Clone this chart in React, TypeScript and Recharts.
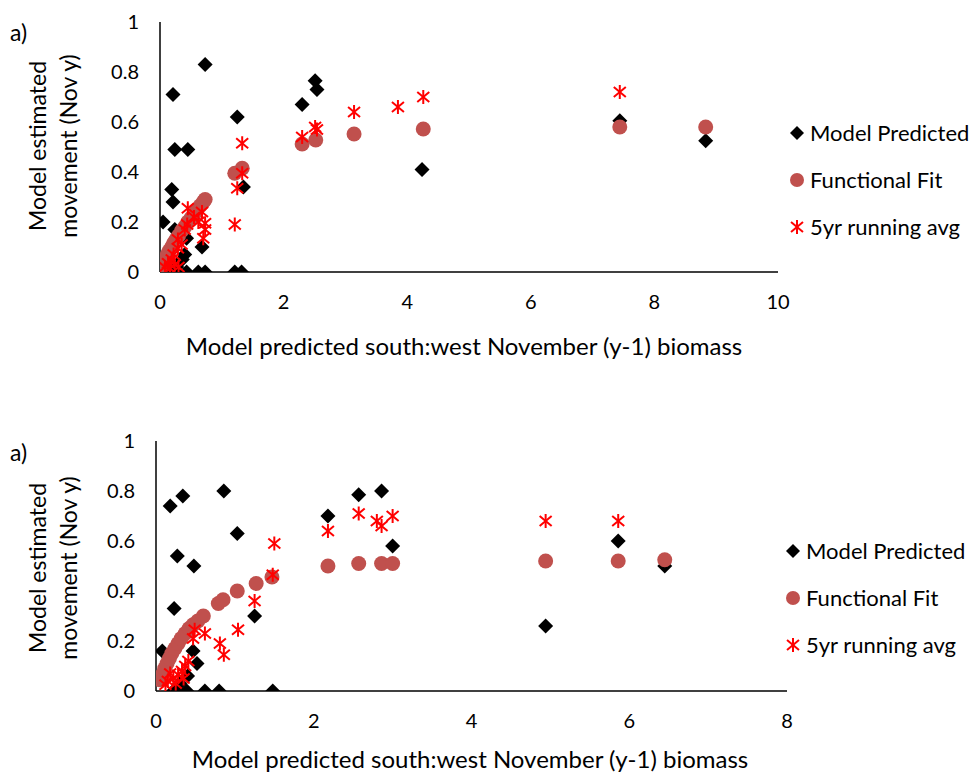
import React from 'react';
import { ScatterChart, Scatter, XAxis, YAxis, Legend } from 'recharts';

// ---------- Top panel data ----------
const topModelX = [0.73, 0.21, 1.25, 0.24, 0.45, 0.19, 0.21, 0.05, 1.35, 0.68, 0.40, 0.24, 0.43, 0.36, 0.12, 0.27, 0.24, 0.43, 0.62, 0.73, 1.21, 1.32, 2.30, 2.51, 2.54, 4.24, 7.44, 8.83];
const topModelY = [0.83, 0.71, 0.62, 0.49, 0.49, 0.33, 0.28, 0.20, 0.34, 0.10, 0.07, 0.17, 0.135, 0.05, 0.05, 0.02, 0, 0, 0, 0, 0, 0, 0.67, 0.765, 0.73, 0.41, 0.605, 0.525];

const topFitX = [0.03, 0.06, 0.09, 0.12, 0.15, 0.19, 0.22, 0.26, 0.30, 0.35, 0.40, 0.45, 0.50, 0.55, 0.60, 0.65, 0.70, 0.73, 1.21, 1.33, 2.30, 2.52, 3.14, 4.26, 7.44, 8.83];
const topFitY = [0.025, 0.04, 0.055, 0.07, 0.085, 0.10, 0.115, 0.13, 0.145, 0.165, 0.18, 0.20, 0.215, 0.23, 0.25, 0.265, 0.28, 0.29, 0.395, 0.415, 0.512, 0.528, 0.552, 0.572, 0.58, 0.58];

const topAvgX = [2.30, 2.51, 2.54, 3.14, 3.85, 4.26, 7.44, 1.33, 1.33, 1.25, 1.21, 0.45, 0.68, 0.73, 0.44, 0.62, 0.73, 0.70, 0.29, 0.40, 0.29, 0.19, 0.13, 0.24, 0.08, 0.35, 0.22, 0.16, 0.30, 0.55];
const topAvgY = [0.54, 0.58, 0.57, 0.64, 0.66, 0.70, 0.72, 0.515, 0.395, 0.335, 0.19, 0.255, 0.24, 0.195, 0.19, 0.20, 0.17, 0.135, 0.13, 0.17, 0.095, 0.05, 0.035, 0.03, 0.02, 0.11, 0.07, 0.015, 0.02, 0.22];

// ---------- Bottom panel data ----------
const botModelX = [0.18, 0.34, 0.86, 1.03, 0.27, 0.48, 0.23, 1.25, 0.08, 0.47, 0.52, 0.40, 0.30, 2.18, 2.57, 2.86, 3.00, 0.22, 0.39, 0.62, 0.80, 1.48, 4.94, 5.86, 6.45];
const botModelY = [0.74, 0.78, 0.80, 0.63, 0.54, 0.50, 0.33, 0.30, 0.16, 0.16, 0.11, 0.06, 0.03, 0.70, 0.785, 0.80, 0.58, 0, 0, 0, 0, 0, 0.26, 0.60, 0.50];

const botFitX = [0.05, 0.08, 0.11, 0.14, 0.17, 0.20, 0.24, 0.28, 0.32, 0.37, 0.42, 0.47, 0.53, 0.60, 0.79, 0.85, 1.03, 1.27, 1.47, 2.18, 2.57, 2.86, 3.00, 4.94, 5.86, 6.45];
const botFitY = [0.045, 0.065, 0.09, 0.11, 0.13, 0.15, 0.17, 0.19, 0.21, 0.23, 0.25, 0.265, 0.28, 0.30, 0.35, 0.365, 0.40, 0.43, 0.456, 0.50, 0.51, 0.51, 0.51, 0.52, 0.52, 0.525];

const botAvgX = [1.50, 1.48, 2.18, 2.57, 2.80, 2.86, 3.00, 4.94, 5.86, 1.25, 1.04, 0.81, 0.86, 0.62, 0.49, 0.47, 0.41, 0.37, 0.33, 0.28, 0.22, 0.15, 0.18, 0.25, 0.35, 0.12];
const botAvgY = [0.59, 0.465, 0.64, 0.71, 0.68, 0.66, 0.70, 0.68, 0.68, 0.36, 0.245, 0.19, 0.145, 0.23, 0.245, 0.21, 0.12, 0.10, 0.08, 0.065, 0.05, 0.04, 0.07, 0.03, 0.05, 0.025];

// ---------- Axis ticks & labels ----------
const topXTicks = [0, 2, 4, 6, 8, 10];
const botXTicks = [0, 2, 4, 6, 8];
const yTicks = [0, 0.2, 0.4, 0.6, 0.8, 1];
const seriesNames = ['Model Predicted', 'Functional Fit', '5yr running avg'];
const xTitle = 'Model predicted south:west November (y-1) biomass';
const yTitle1 = 'Model estimated';
const yTitle2 = 'movement (Nov y)';
const panelLabel = 'a)';

const FONT = 'Lato, "Open Sans", sans-serif';
const FIT_COLOR = '#C0504D';

const zip = (xs: number[], ys: number[]) => xs.map((x, i) => ({ x, y: ys[i] }));

const DiamondShape = (p: any) => {
  const { cx, cy } = p;
  const r = 7.5;
  return <path d={`M${cx},${cy - r}L${cx + r},${cy}L${cx},${cy + r}L${cx - r},${cy}Z`} fill="#000" />;
};
const CircleShape = (p: any) => <circle cx={p.cx} cy={p.cy} r={7.5} fill={FIT_COLOR} />;
const StarShape = (p: any) => {
  const { cx, cy } = p;
  return (
    <g stroke="#FF0000" strokeWidth={2}>
      <line x1={cx} y1={cy - 7} x2={cx} y2={cy + 7} />
      <line x1={cx - 6} y1={cy - 5} x2={cx + 6} y2={cy + 5} />
      <line x1={cx - 6} y1={cy + 5} x2={cx + 6} y2={cy - 5} />
    </g>
  );
};

const legendIcon = (name: string) => {
  if (name === seriesNames[0]) return <path d="M8,1L15,8L8,15L1,8Z" fill="#000" />;
  if (name === seriesNames[1]) return <circle cx={8} cy={8} r={7} fill={FIT_COLOR} />;
  return (
    <g stroke="#FF0000" strokeWidth={2}>
      <line x1={8} y1={1} x2={8} y2={15} />
      <line x1={2} y1={3} x2={14} y2={13} />
      <line x1={2} y1={13} x2={14} y2={3} />
    </g>
  );
};

const renderLegend = (props: any) => {
  const payload = props.payload || [];
  const ordered = seriesNames.filter((n) => payload.some((e: any) => e.value === n));
  return (
    <div style={{ fontFamily: FONT, fontSize: 22, color: '#000' }}>
      {ordered.map((n) => (
        <div key={n} style={{ display: 'flex', alignItems: 'center', height: 47 }}>
          <svg width={16} height={16} style={{ marginRight: 5 }}>{legendIcon(n)}</svg>
          <span style={{ whiteSpace: 'nowrap' }}>{n}</span>
        </div>
      ))}
    </div>
  );
};

const tickStyle = { fill: '#000', fontSize: 20, fontFamily: FONT };

type PanelProps = {
  width: number;
  height: number;
  margin: { top: number; right: number; bottom: number; left: number };
  xMax: number;
  xTicks: number[];
  model: { x: number; y: number }[];
  fit: { x: number; y: number }[];
  avg: { x: number; y: number }[];
  legendPos: { left: number; top: number };
};

const Panel = (p: PanelProps) => (
  <ScatterChart width={p.width} height={p.height} margin={p.margin}>
    <XAxis
      type="number"
      dataKey="x"
      domain={[0, p.xMax]}
      ticks={p.xTicks}
      height={1}
      tickSize={0}
      tickMargin={23}
      tickLine={false}
      axisLine={{ stroke: '#000', strokeWidth: 1.5 }}
      tick={tickStyle}
      allowDataOverflow
    />
    <YAxis
      type="number"
      dataKey="y"
      domain={[0, 1]}
      ticks={yTicks}
      width={1}
      tickSize={0}
      tickMargin={21}
      tickLine={false}
      axisLine={{ stroke: '#000', strokeWidth: 1.5 }}
      tick={tickStyle}
      allowDataOverflow
    />
    <Legend
      layout="vertical"
      align="center"
      verticalAlign="middle"
      content={renderLegend}
      wrapperStyle={{ left: p.legendPos.left, top: p.legendPos.top, width: 190 }}
    />
    <Scatter name={seriesNames[0]} data={p.model} shape={DiamondShape} isAnimationActive={false} />
    <Scatter name={seriesNames[1]} data={p.fit} shape={CircleShape} isAnimationActive={false} />
    <Scatter name={seriesNames[2]} data={p.avg} shape={StarShape} isAnimationActive={false} />
  </ScatterChart>
);

const Titles = ({ top, yCenter, xTitleY, xTitleX, aY }: { top: number; yCenter: number; xTitleY: number; xTitleX: number; aY: number }) => (
  <svg width={973} height={394} style={{ position: 'absolute', left: 0, top, pointerEvents: 'none' }}>
    <text x={10} y={aY} fontFamily={FONT} fontSize={23} fill="#000" dominantBaseline="central">{panelLabel}</text>
    <text x={37} y={yCenter} transform={`rotate(-90, 37, ${yCenter})`} textAnchor="middle" dominantBaseline="central" fontFamily={FONT} fontSize={23} fill="#000">{yTitle1}</text>
    <text x={68} y={yCenter} transform={`rotate(-90, 68, ${yCenter})`} textAnchor="middle" dominantBaseline="central" fontFamily={FONT} fontSize={23} fill="#000">{yTitle2}</text>
    <text x={xTitleX} y={xTitleY} textAnchor="middle" dominantBaseline="central" fontFamily={FONT} fontSize={24} fill="#000">{xTitle}</text>
  </svg>
);

export default function App() {
  return (
    <div style={{ position: 'absolute', left: 0, top: 0, width: 973, height: 774, background: '#fff', overflow: 'hidden' }}>
      <div style={{ position: 'absolute', left: 0, top: 0 }}>
        <Panel
          width={973}
          height={380}
          margin={{ top: 22, right: 195, bottom: 107, left: 159 }}
          xMax={10}
          xTicks={topXTicks}
          model={zip(topModelX, topModelY)}
          fit={zip(topFitX, topFitY)}
          avg={zip(topAvgX, topAvgY)}
          legendPos={{ left: 789, top: 109 }}
        />
      </div>
      <div style={{ position: 'absolute', left: 0, top: 380 }}>
        <Panel
          width={973}
          height={394}
          margin={{ top: 61, right: 186, bottom: 82, left: 155 }}
          xMax={8}
          xTicks={botXTicks}
          model={zip(botModelX, botModelY)}
          fit={zip(botFitX, botFitY)}
          avg={zip(botAvgX, botAvgY)}
          legendPos={{ left: 785, top: 147 }}
        />
      </div>
      <Titles top={0} yCenter={146} xTitleY={345} xTitleX={464} aY={32} />
      <Titles top={380} yCenter={188} xTitleY={378} xTitleX={470} aY={72} />
    </div>
  );
}
